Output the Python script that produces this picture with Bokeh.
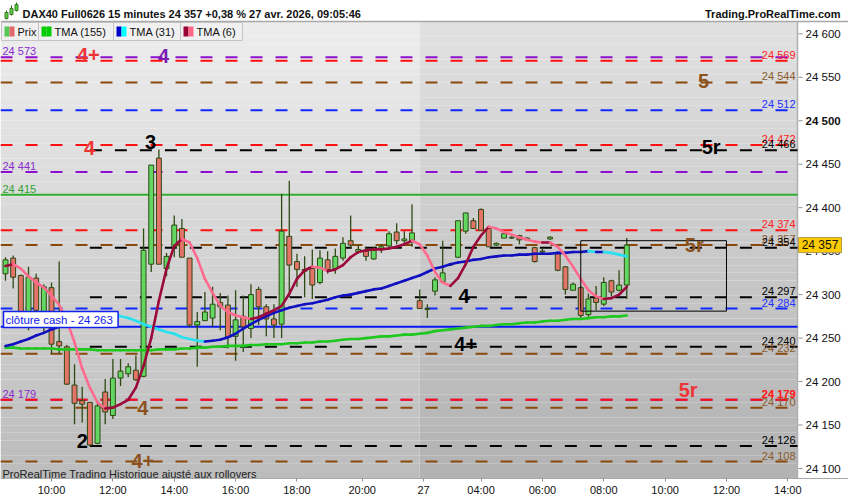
import numpy as np
from bokeh.plotting import figure
from bokeh.models import Range1d, FixedTicker, Label, ColumnDataSource
from bokeh.core.properties import value
from bokeh.embed import file_html
from bokeh.resources import INLINE

# ---------------- data ----------------
opens = [24324, 24342, 24322, 24276, 24319, 24274, 24308, 24246, 24240, 24196,
         24178, 24176, 24129, 24188, 24161, 24204, 24209, 24213, 24206, 24335,
         24457, 24330, 24355, 24376, 24342, 24265, 24270, 24273, 24291, 24288,
         24252, 24275, 24261, 24306, 24286, 24272, 24266, 24367, 24338, 24329,
         24330, 24314, 24340, 24330, 24342, 24362, 24349, 24350, 24341, 24353,
         24356, 24372, 24362, 24362, 24293, 24283, 24304, 24315, 24334, 24343,
         24373, 24385, 24398, 24376, 24357, 24365, 24365, 24368, 24363, 24354,
         24350, 24364, 24347, 24332, 24305, 24308, 24277, 24296, 24289, 24316,
         24305, 24311]
highs = [24343, 24345, 24323, 24332, 24324, 24312, 24314, 24338, 24242, 24220,
         24194, 24176, 24178, 24203, 24226, 24226, 24221, 24230, 24376, 24449,
         24467, 24348, 24391, 24387, 24342, 24280, 24303, 24309, 24302, 24299,
         24305, 24299, 24312, 24309, 24289, 24289, 24416, 24431, 24347, 24344,
         24352, 24351, 24350, 24353, 24366, 24391, 24357, 24355, 24355, 24358,
         24373, 24382, 24373, 24404, 24306, 24289, 24320, 24362, 24336, 24385,
         24394, 24388, 24399, 24378, 24360, 24371, 24367, 24369, 24366, 24355,
         24353, 24367, 24349, 24333, 24314, 24310, 24301, 24310, 24320, 24317,
         24328, 24365]
lows = [24316, 24307, 24268, 24259, 24274, 24257, 24232, 24232, 24196, 24151,
        24153, 24126, 24128, 24151, 24157, 24195, 24205, 24201, 24205, 24326,
        24335, 24321, 24343, 24343, 24263, 24217, 24270, 24263, 24259, 24238,
        24224, 24234, 24250, 24265, 24252, 24250, 24250, 24297, 24309, 24297,
        24295, 24312, 24324, 24324, 24339, 24353, 24347, 24339, 24340, 24348,
        24355, 24358, 24359, 24355, 24284, 24273, 24299, 24314, 24333, 24343,
        24370, 24376, 24374, 24355, 24356, 24365, 24364, 24358, 24362, 24337,
        24346, 24363, 24327, 24300, 24305, 24273, 24273, 24282, 24287, 24298,
        24304, 24295]
closes = [24340, 24320, 24275, 24320, 24282, 24309, 24243, 24241, 24197, 24175,
          24174, 24127, 24172, 24165, 24204, 24212, 24217, 24202, 24351, 24449,
          24335, 24344, 24380, 24343, 24265, 24269, 24280, 24289, 24286, 24251,
          24271, 24263, 24300, 24286, 24272, 24265, 24373, 24334, 24329, 24327,
          24311, 24342, 24329, 24344, 24359, 24357, 24352, 24344, 24351, 24355,
          24370, 24362, 24364, 24371, 24284, 24284, 24317, 24325, 24335, 24385,
          24394, 24376, 24374, 24355, 24359, 24370, 24366, 24363, 24365, 24338,
          24349, 24366, 24328, 24306, 24312, 24276, 24295, 24291, 24314, 24303,
          24311, 24357]

tma155 = [24239, 24239, 24238, 24238, 24238, 24238, 24238, 24237, 24237, 24237,
          24237, 24237, 24236, 24236, 24236, 24236, 24236, 24236, 24236, 24236,
          24237, 24237, 24237, 24238, 24238, 24239, 24239, 24240, 24240, 24241,
          24241, 24241, 24242, 24242, 24243, 24243, 24243, 24244, 24244, 24245,
          24245, 24246, 24246, 24247, 24248, 24249, 24249, 24250, 24251, 24252,
          24252, 24253, 24254, 24254, 24255, 24256, 24258, 24259, 24260, 24261,
          24262, 24263, 24264, 24264, 24265, 24266, 24266, 24267, 24268, 24268,
          24269, 24270, 24270, 24271, 24272, 24272, 24273, 24274, 24274, 24275,
          24275, 24276]
tma31 = [24241, 24243, 24246, 24249, 24253, 24256, 24260, 24263, 24267, 24271,
         24274, 24277, 24278, 24278, 24277, 24275, 24273, 24270, 24266, 24263,
         24260, 24257, 24255, 24251, 24249, 24247, 24246, 24247, 24248, 24251,
         24255, 24261, 24266, 24271, 24275, 24279, 24282, 24285, 24287, 24289,
         24290, 24292, 24294, 24297, 24299, 24300, 24302, 24304, 24306, 24307,
         24310, 24313, 24316, 24319, 24322, 24326, 24330, 24332, 24335, 24337,
         24338, 24340, 24341, 24343, 24344, 24345, 24345, 24346, 24346, 24347,
         24347, 24347, 24348, 24348, 24349, 24349, 24350, 24349, 24349, 24348,
         24346, 24344]
tma6 = [24333, 24335, 24330, 24321, 24314, 24308, 24299, 24288, 24270, 24245,
        24215, 24193, 24176, 24169, 24170, 24174, 24179, 24193, 24218, 24250,
        24293, 24330, 24356, 24364, 24360, 24342, 24318, 24302, 24287, 24280,
        24276, 24274, 24272, 24274, 24278, 24282, 24287, 24301, 24318, 24328,
        24332, 24331, 24327, 24329, 24334, 24343, 24349, 24351, 24352, 24352,
        24353, 24355, 24358, 24362, 24358, 24345, 24326, 24314, 24310, 24319,
        24335, 24355, 24368, 24378, 24376, 24372, 24369, 24366, 24363, 24361,
        24360, 24360, 24355, 24345, 24332, 24318, 24305, 24298, 24295, 24296,
        24300, 24309]

tick_bars = [6, 14, 22, 30, 38, 46.5, 54.5, 62, 70, 78, 86, 94, 102]
tick_labels = ["10:00", "12:00", "14:00", "16:00", "18:00", "20:00", "27",
               "04:00", "06:00", "08:00", "10:00", "12:00", "14:00"]
price_ticks = [24100, 24150, 24200, 24250, 24300, 24350, 24400, 24450, 24500, 24550, 24600]

# horizontal levels
level_prices = [24573, 24569, 24544, 24512, 24472, 24466, 24441, 24374, 24357, 24354,
                24297, 24284, 24240, 24232, 24179, 24179, 24170, 24126, 24108]
level_kinds = ["purple", "red", "brown", "blue", "red", "black", "purple", "red", "brown", "black",
               "black", "blue", "black", "brown", "purple", "red", "brown", "black", "brown"]
swing_low_bar = 11
cash_close = 24263
green_level = 24415
last_price = 24357

box_bars = [75, 94]
box_prices = [24281, 24362]

wave_text = ["4+", "4", "5", "4", "3", "5r", "4", "4+", "5r", "4", "2", "4+", "5r"]
wave_bar = [10.8, 20.6, 91, 10.95, 18.9, 92, 59.8, 60, 89, 17.9, 10, 17.9, 89.8]
wave_price = [24576, 24575, 24546, 24469, 24475, 24470, 24298, 24243, 24190, 24170, 24132, 24109, 24357]
wave_kind = ["red", "purple", "brown", "red", "black", "black", "black", "black", "red", "brown",
             "black", "brown", "brown"]

title_text = "DAX40 Full0626 15 minutes 24 357 +0,38 % 27 avr. 2026, 09:05:46"
site_text = "Trading.ProRealTime.com"
footer_text = "ProRealTime Trading  Historique ajusté aux rollovers"
legend_names = ["Prix", "TMA (155)", "TMA (31)", "TMA (6)"]

# ---------------- styling / layout ----------------
LINE_COL = {"purple": "#8a10d0", "red": "#ff1010", "brown": "#8a4a0c", "blue": "#1028ff",
            "black": "#000000"}
TXT_COL = {"purple": "#8a2bd0", "red": "#ff2020", "brown": "#8b5a2b", "blue": "#2030ff",
           "black": "#000000"}
WAVE_COL = {"purple": "#7a1fb0", "red": "#ee3535", "brown": "#8b5220", "black": "#000000"}
FNAME = "Liberation Sans"
FONT = value(FNAME)


def fmt(v):
    return f"{int(v):,}".replace(",", " ")


W, H = 848, 498
BOTTOM = 20
FH = H - BOTTOM                    # frame height (px)
PX_BAR = 7.67                      # px per bar
X0PX = 5.0                         # px of bar 0
PX_PT = 0.8694                     # px per index point
Y600 = 33.3                        # px of 24600


def dx(px):
    return (px - X0PX) / PX_BAR


def dy(py):
    return 24600 - (py - Y600) / PX_PT


XL, XR_FULL = dx(0), dx(W)
XR = dx(797)                       # end of the chart area / axis line
YT, YB = dy(0), dy(FH)

p = figure(width=W, height=H, x_range=Range1d(XL, XR_FULL), y_range=Range1d(YB, YT),
           output_backend="svg", toolbar_location=None, y_axis_location=None,
           min_border_left=0, min_border_top=0, min_border_right=0,
           min_border_bottom=BOTTOM)
p.xgrid.visible = False
p.ygrid.visible = False
p.outline_line_color = None
p.background_fill_color = "white"
p.border_fill_color = "white"

# background gradient (two sessions)
Y_HEAD = dy(21)
nb = 60
edges = np.linspace(YB, Y_HEAD, nb + 1)
frac = np.linspace(0, 1, nb)


def grey(a, b):
    out = []
    for f in frac:
        v = int(round(a + (b - a) * f))
        out.append("#%02x%02x%02x" % (v, v, v))
    return out


p.quad(left=XL, right=54, bottom=edges[:-1], top=edges[1:], fill_color=grey(188, 237),
       line_color=None)
p.quad(left=54, right=XR, bottom=edges[:-1], top=edges[1:], fill_color=grey(178, 225),
       line_color=None)
p.segment(x0=XL, y0=Y_HEAD, x1=XR_FULL, y1=Y_HEAD, line_color="#a8a8a8", line_width=1.5)
p.segment(x0=XR, y0=YB, x1=XR, y1=Y_HEAD, line_color="#b0b0b0", line_width=1.5)

# levels
lv = ColumnDataSource(dict(
    x0=[swing_low_bar if k == "black" else XL for k in level_kinds],
    x1=[XR] * len(level_prices), y=level_prices,
    c=[LINE_COL[k] for k in level_kinds]))
p.segment(x0="x0", y0="y", x1="x1", y1="y", source=lv, line_color="c", line_width=2,
          line_dash="12 13")
p.segment(x0=[XL, XL], y0=[green_level, cash_close], x1=[XR, XR], y1=[green_level, cash_close],
          line_color=["#30b030", "#0818f0"], line_width=2)

# right labels of levels
rl = [(pr, k) for pr, k in zip(level_prices, level_kinds) if k != "purple"]
p.text(x=[XR] * len(rl), y=[r[0] for r in rl], text=[fmt(r[0]) for r in rl],
       text_color=[TXT_COL[r[1]] for r in rl], text_align="right", text_baseline="bottom",
       x_offset=-2, y_offset=0, text_font=FONT, text_font_size="11px")
p.text(x=[XR], y=[24179], text=[fmt(24179)], text_color=TXT_COL["red"], text_align="right",
       text_baseline="bottom", x_offset=-2, text_font=FONT, text_font_size="11px",
       text_font_style="bold")
# left labels
ll = [(pr, TXT_COL["purple"]) for pr, k in zip(level_prices, level_kinds) if k == "purple"]
ll.append((green_level, "#30a030"))
p.text(x=[XL] * len(ll), y=[r[0] for r in ll], text=[fmt(r[0]) for r in ll],
       text_color=[r[1] for r in ll], text_align="left", text_baseline="bottom",
       x_offset=2, text_font=FONT, text_font_size="11px")

# candles
bars = list(range(len(opens)))
up = [c >= o for o, c in zip(opens, closes)]
cs = ColumnDataSource(dict(x=bars, h=highs, l=lows,
                           top=[max(o, c) for o, c in zip(opens, closes)],
                           bot=[min(o, c) for o, c in zip(opens, closes)],
                           fill=["#62d862" if u else "#e4736a" for u in up]))
WICK = "#2e4a12"
p.segment(x0="x", y0="h", x1="x", y1="l", source=cs, line_color=WICK, line_width=1.3)
p.vbar(x="x", width=0.64, top="top", bottom="bot", source=cs, fill_color="fill",
       line_color=WICK, line_width=1)


def ma(vals, c_up, c_dn, width=2.6):
    c = [c_up if b >= a else c_dn for a, b in zip(vals[:-1], vals[1:])]
    p.segment(x0=bars[:-1], y0=vals[:-1], x1=bars[1:], y1=vals[1:], line_color=c,
              line_width=width, line_cap="round")


ma(tma155, "#1ec81e", "#1ec81e")
ma(tma31, "#1010c0", "#28e0f0")
ma(tma6, "#9a0a3a", "#ff6b8e")

# box
p.quad(left=box_bars[0], right=box_bars[1], bottom=box_prices[0], top=box_prices[1],
       fill_color=None, line_color="black", line_width=1)

# wave labels
p.text(x=wave_bar, y=wave_price, text=wave_text, text_color=[WAVE_COL[k] for k in wave_kind],
       text_align="center", text_baseline="middle", text_font=FONT, text_font_size="20px",
       text_font_style="bold")

# cash close label
p.add_layout(Label(x=dx(3), y=dy(319), text="clôture cash -  " + fmt(cash_close),
                   text_color="#1020f0", text_font=FNAME, text_font_size="11.5px",
                   text_baseline="middle", text_align="left", background_fill_color="white",
                   border_line_color="#1020f0", border_line_width=1.5, padding=2))

# header
ic_x = [dx(6), dx(11), dx(16)]
p.segment(x0=ic_x, y0=[dy(19), dy(15), dy(11)], x1=ic_x, y1=[dy(10), dy(5), dy(2)],
          line_color="#2e6a12", line_width=1)
p.vbar(x=ic_x, width=0.4, top=[dy(12), dy(8), dy(4)], bottom=[dy(18), dy(14), dy(10)],
       fill_color="#55cc44", line_color="#2e6a12", line_width=0.8)
p.text(x=[dx(22)], y=[dy(13)], text=[title_text], text_font=FONT, text_font_size="11px",
       text_font_style="bold", text_baseline="middle", text_color="#111111")
p.text(x=[dx(840)], y=[dy(13)], text=[site_text], text_font=FONT, text_font_size="11px",
       text_font_style="bold", text_baseline="middle", text_align="right",
       text_color="#111111")

# legend row
box_px = [(1, 38), (38, 113), (113, 180), (180, 242)]
sw = [("#55c855", "#e06868"), ("#00cc00", "#00cc00"), ("#0000cc", "#00ffff"), ("#990033", "#ff6688")]
p.quad(left=[dx(a) for a, b in box_px], right=[dx(b) for a, b in box_px],
       top=dy(22), bottom=dy(40), fill_color="#f0f0f0", line_color="#c4c4c4")
p.quad(left=[dx(a + 3) for a, b in box_px], right=[dx(a + 8) for a, b in box_px],
       top=dy(26), bottom=dy(36), fill_color=[s[0] for s in sw], line_color=None)
p.quad(left=[dx(a + 8) for a, b in box_px], right=[dx(a + 13) for a, b in box_px],
       top=dy(26), bottom=dy(36), fill_color=[s[1] for s in sw], line_color=None)
p.text(x=[dx(a + 16) for a, b in box_px], y=dy(31), text=legend_names, text_font=FONT,
       text_font_size="11px", text_baseline="middle", text_color="#111111")

# footer text
p.text(x=[dx(2)], y=[dy(473)], text=[footer_text],
       text_font=FONT, text_font_size="11px", text_baseline="middle", text_color="#222222")

# price scale on the right (ticks and labels)
p.segment(x0=dx(798), x1=dx(802), y0=price_ticks, y1=price_ticks, line_color="#909090",
          line_width=1)
reg = [t for t in price_ticks if t != 24500]
p.text(x=dx(805), y=reg, text=[fmt(t) for t in reg], text_font=FONT,
       text_font_size="11.5px", text_baseline="middle", text_color="#111111")
p.text(x=dx(805), y=[24500], text=[fmt(24500)], text_font=FONT, text_font_size="11.5px",
       text_font_style="bold", text_baseline="middle", text_color="#111111")

# last price tag
half = 7.5 / PX_PT
p.quad(left=dx(798), right=dx(841), bottom=last_price - half, top=last_price + half,
       fill_color="#ffcc00", line_color="#b09a50", line_width=1)
p.text(x=[dx(819.5)], y=[last_price], text=[fmt(last_price)], text_font=FONT,
       text_font_size="12px", text_align="center", text_baseline="middle",
       text_color="#111111")

# time axis
p.xaxis.ticker = FixedTicker(ticks=tick_bars)
p.xaxis.major_label_overrides = dict(zip(tick_bars, tick_labels))
p.xaxis.axis_line_color = "#a8a8a8"
p.xaxis.major_tick_out = 3
p.xaxis.major_tick_in = 0
p.xaxis.minor_tick_line_color = None
p.xaxis.major_tick_line_color = "#909090"
p.xaxis.major_label_text_font = FNAME
p.xaxis.major_label_text_font_size = "11px"
p.xaxis.major_label_text_color = "#111111"
p.xaxis.major_label_standoff = 2

open("out.html", "w").write(file_html(p, INLINE))
